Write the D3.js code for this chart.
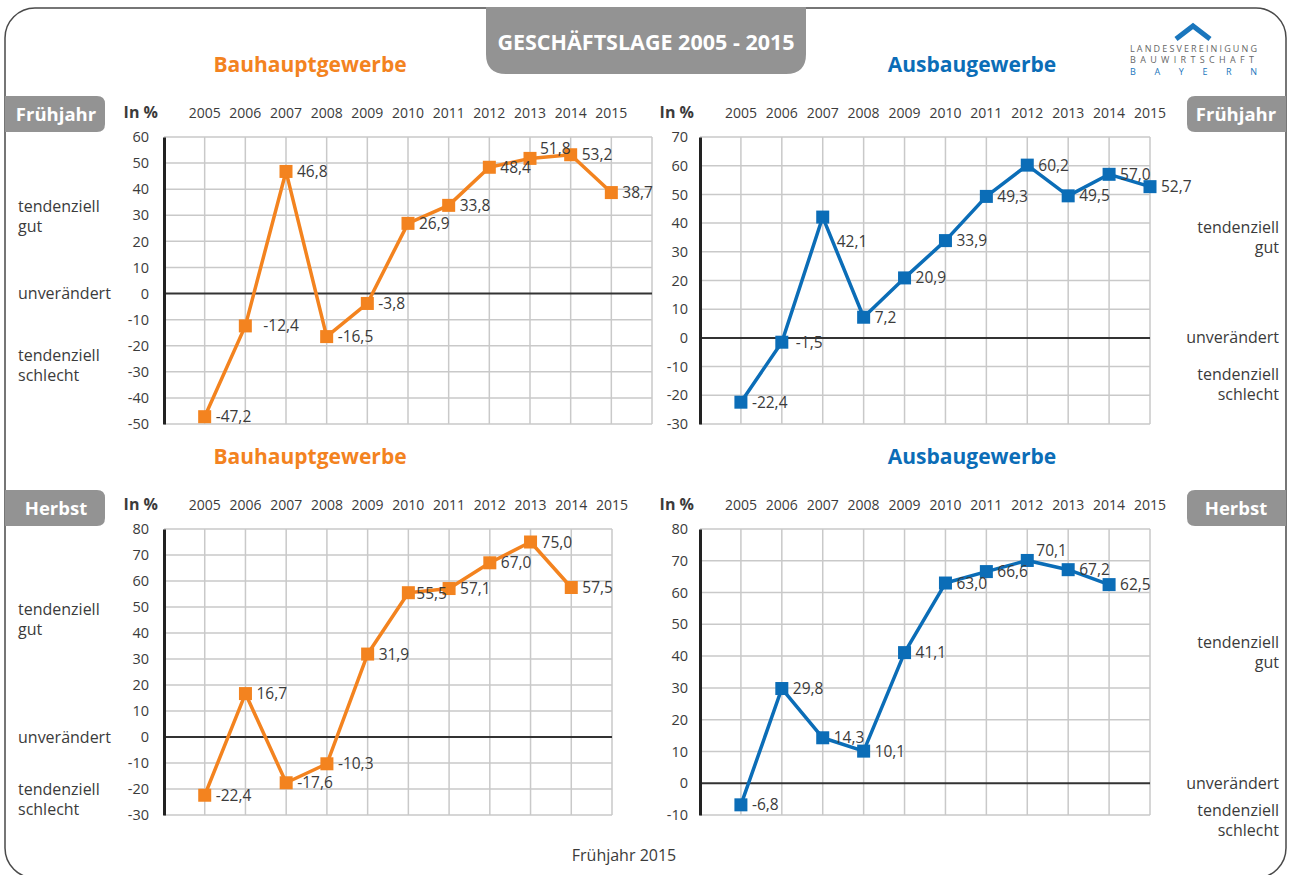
<!DOCTYPE html>
<html>
<head>
<meta charset="utf-8">
<script src="https://cdn.jsdelivr.net/npm/d3@7"></script>
<style>
body { margin: 0; background: #fff; }
svg text { font-family: "Open Sans", "Noto Sans", sans-serif; }
</style>
</head>
<body>
<svg id="chart" width="1290" height="875"></svg>
<script>
// data
const years = [2005, 2006, 2007, 2008, 2009, 2010, 2011, 2012, 2013, 2014, 2015];
const bauFruehjahr = [-47.2, -12.4, 46.8, -16.5, -3.8, 26.9, 33.8, 48.4, 51.8, 53.2, 38.7];
const ausbauFruehjahr = [-22.4, -1.5, 42.1, 7.2, 20.9, 33.9, 49.3, 60.2, 49.5, 57.0, 52.7];
const bauHerbst = [-22.4, 16.7, -17.6, -10.3, 31.9, 55.5, 57.1, 67.0, 75.0, 57.5];
const ausbauHerbst = [-6.8, 29.8, 14.3, 10.1, 41.1, 63.0, 66.6, 70.1, 67.2, 62.5];

const ticksBauFruehjahr = [-50, -40, -30, -20, -10, 0, 10, 20, 30, 40, 50, 60];
const ticksAusbauFruehjahr = [-30, -20, -10, 0, 10, 20, 30, 40, 50, 60, 70];
const ticksBauHerbst = [-30, -20, -10, 0, 10, 20, 30, 40, 50, 60, 70, 80];
const ticksAusbauHerbst = [-10, 0, 10, 20, 30, 40, 50, 60, 70, 80];

const ORANGE = "#f3831f";
const BLUE = "#0b6db7";
const GREY = "#939393";
const TEXT = "#3b3b3b";

const de = d3.formatLocale({decimal: ",", thousands: ".", grouping: [3], currency: ["", " €"], minus: "-"});
const fmt = de.format(".1f");

let svg = d3.select("#chart");

// outer frame
svg.append("rect")
	.attr("x", 5).attr("y", 8)
	.attr("width", 1281).attr("height", 870)
	.attr("rx", 30)
	.attr("fill", "none")
	.attr("stroke", "#4a4a4a")
	.attr("stroke-width", 1.5);

// title tab
svg.append("path")
	.attr("d", "M486,7 H806 V54 Q806,74 786,74 H506 Q486,74 486,54 Z")
	.attr("fill", GREY);
svg.append("text")
	.attr("x", 646).attr("y", 50)
	.attr("text-anchor", "middle")
	.attr("font-size", 21.5).attr("font-weight", "bold")
	.attr("fill", "#fff")
	.text("GESCHÄFTSLAGE 2005 - 2015");

// logo
svg.append("polyline")
	.attr("points", "1176,39 1193,26 1210,39")
	.attr("fill", "none").attr("stroke", "#1a76bd").attr("stroke-width", 5);
[["LANDESVEREINIGUNG", 52, "#666"], ["BAUWIRTSCHAFT", 63, "#666"], ["BAYERN", 75, "#1a76bd"]].forEach(function(l){
	svg.append("text")
		.attr("x", 1130).attr("y", l[1])
		.attr("font-size", 9)
		.attr("fill", l[2])
		.attr("textLength", l[0] === "BAUWIRTSCHAFT" ? 124 : 127)
		.attr("lengthAdjust", "spacing")
		.text(l[0]);
});

function tab(side, y0, label){
	let h = 36, r = 8, d;
	if (side === "left"){
		d = `M5,${y0} H${105 - r} Q105,${y0} 105,${y0 + r} V${y0 + h - r} Q105,${y0 + h} ${105 - r},${y0 + h} H5 Z`;
	} else {
		d = `M1286,${y0} H${1187 + r} Q1187,${y0} 1187,${y0 + r} V${y0 + h - r} Q1187,${y0 + h} ${1187 + r},${y0 + h} H1286 Z`;
	}
	svg.append("path").attr("d", d).attr("fill", GREY);
	svg.append("text")
		.attr("x", side === "left" ? 56 : 1236)
		.attr("y", y0 + 25)
		.attr("text-anchor", "middle")
		.attr("font-size", 18.5).attr("font-weight", "bold")
		.attr("fill", "#fff")
		.text(label);
}

function drawPanel(p){
	let x = d3.scaleLinear().domain(p.xDomain).range(p.xRange);
	let y = d3.scaleLinear().domain(d3.extent(p.ticks)).range(p.yRange);
	let g = svg.append("g");

	// grid
	g.append("g").selectAll("line")
		.data(p.ticks.filter(d => d !== 0))
		.join("line")
		.attr("x1", p.xRange[0]).attr("x2", p.xRange[1])
		.attr("y1", d => y(d)).attr("y2", d => y(d))
		.attr("stroke", "#c9c9c9").attr("stroke-width", 1.5);
	g.append("g").selectAll("line")
		.data(d3.range(p.xDomain[0] + 1, p.xDomain[1] + 1))
		.join("line")
		.attr("x1", d => x(d)).attr("x2", d => x(d))
		.attr("y1", p.yRange[0]).attr("y2", p.yRange[1])
		.attr("stroke", "#c9c9c9").attr("stroke-width", 1.5);
	g.append("line")
		.attr("x1", p.xRange[0]).attr("x2", p.xRange[1])
		.attr("y1", y(0)).attr("y2", y(0))
		.attr("stroke", "#333").attr("stroke-width", 2);

	// y axis
	g.append("g")
		.attr("transform", `translate(${p.xRange[0]},0)`)
		.call(d3.axisLeft(y).tickValues(p.ticks).tickSize(0).tickPadding(p.pad).tickFormat(d => String(d)))
		.call(a => a.select(".domain").attr("stroke", "#222").attr("stroke-width", 3))
		.call(a => a.selectAll(".tick text")
			.attr("font-size", 14.5).attr("fill", TEXT)
			.attr("font-family", "'Open Sans', 'Noto Sans', sans-serif"));

	g.append("text")
		.attr("x", p.xRange[0] - 6).attr("y", p.yRange[1] - 19)
		.attr("text-anchor", "end")
		.attr("font-size", 16).attr("font-weight", "bold").attr("fill", TEXT)
		.text("In %");

	// years on top
	g.append("g").selectAll("text")
		.data(years)
		.join("text")
		.attr("x", d => x(d))
		.attr("y", p.yRange[1] - 19)
		.attr("text-anchor", "middle")
		.attr("font-size", 14).attr("fill", TEXT)
		.text(d => d);

	// series
	const line = d3.line()
		.x((d, i) => x(years[i]))
		.y(d => y(d));
	g.append("path")
		.attr("d", line(p.values))
		.attr("fill", "none")
		.attr("stroke", p.color)
		.attr("stroke-width", 3.5)
		.attr("stroke-linejoin", "round");
	g.append("g").selectAll("rect")
		.data(p.values)
		.join("rect")
		.attr("x", (d, i) => x(years[i]) - 6.5)
		.attr("y", d => y(d) - 6.5)
		.attr("width", 13).attr("height", 13)
		.attr("fill", p.color);
	g.append("g").selectAll("text")
		.data(p.values)
		.join("text")
		.attr("x", (d, i) => x(years[i]) + (p.nudge[i] ? p.nudge[i][0] : 11))
		.attr("y", (d, i) => y(d) + 5.5 + (p.nudge[i] ? p.nudge[i][1] : 0))
		.attr("font-size", 15.5).attr("fill", TEXT)
		.text(d => fmt(d));

	// panel title
	svg.append("text")
		.attr("x", p.titleX).attr("y", p.yRange[1] - 65)
		.attr("text-anchor", "middle")
		.attr("font-size", 21).attr("font-weight", "bold")
		.attr("fill", p.color)
		.text(p.title);

	// side notes
	let sx = p.side === "left" ? 18 : 1279;
	let anchor = p.side === "left" ? "start" : "end";
	let notes = [
		["tendenziell", p.notes[0]], ["gut", p.notes[0] + 20],
		["unverändert", 0],
		["tendenziell", p.notes[1]], ["schlecht", p.notes[1] + 20]
	];
	svg.append("g").selectAll("text")
		.data(notes)
		.join("text")
		.attr("x", sx)
		.attr("y", d => y(0) + 5.5 + d[1])
		.attr("text-anchor", anchor)
		.attr("font-size", 16).attr("fill", TEXT)
		.text(d => d[0]);
}

drawPanel({
	title: "Bauhauptgewerbe", titleX: 310, color: ORANGE, values: bauFruehjahr, ticks: ticksBauFruehjahr,
	xDomain: [2004, 2016], xRange: [164, 652], yRange: [424, 137], pad: 15,
	side: "left", notes: [-87, 62],
	nudge: {1: [18, 0], 8: [10, -10]}
});
drawPanel({
	title: "Ausbaugewerbe", titleX: 972, color: BLUE, values: ausbauFruehjahr, ticks: ticksAusbauFruehjahr,
	xDomain: [2004, 2015], xRange: [700, 1150], yRange: [424, 137], pad: 12,
	side: "right", notes: [-110, 37],
	nudge: {1: [14, 0], 2: [14, 24]}
});
drawPanel({
	title: "Bauhauptgewerbe", titleX: 310, color: ORANGE, values: bauHerbst, ticks: ticksBauHerbst,
	xDomain: [2004, 2015], xRange: [164, 612], yRange: [815, 529], pad: 15,
	side: "left", notes: [-128, 52],
	nudge: {5: [8, 1]}
});
drawPanel({
	title: "Ausbaugewerbe", titleX: 972, color: BLUE, values: ausbauHerbst, ticks: ticksAusbauHerbst,
	xDomain: [2004, 2015], xRange: [700, 1150], yRange: [815, 529], pad: 12,
	side: "right", notes: [-141, 27],
	nudge: {7: [9, -10]}
});

tab("left", 96, "Frühjahr");
tab("right", 96, "Frühjahr");
tab("left", 490, "Herbst");
tab("right", 490, "Herbst");

svg.append("text")
	.attr("x", 624).attr("y", 861)
	.attr("text-anchor", "middle")
	.attr("font-size", 16).attr("fill", TEXT)
	.text("Frühjahr 2015");
</script>
</body>
</html>
